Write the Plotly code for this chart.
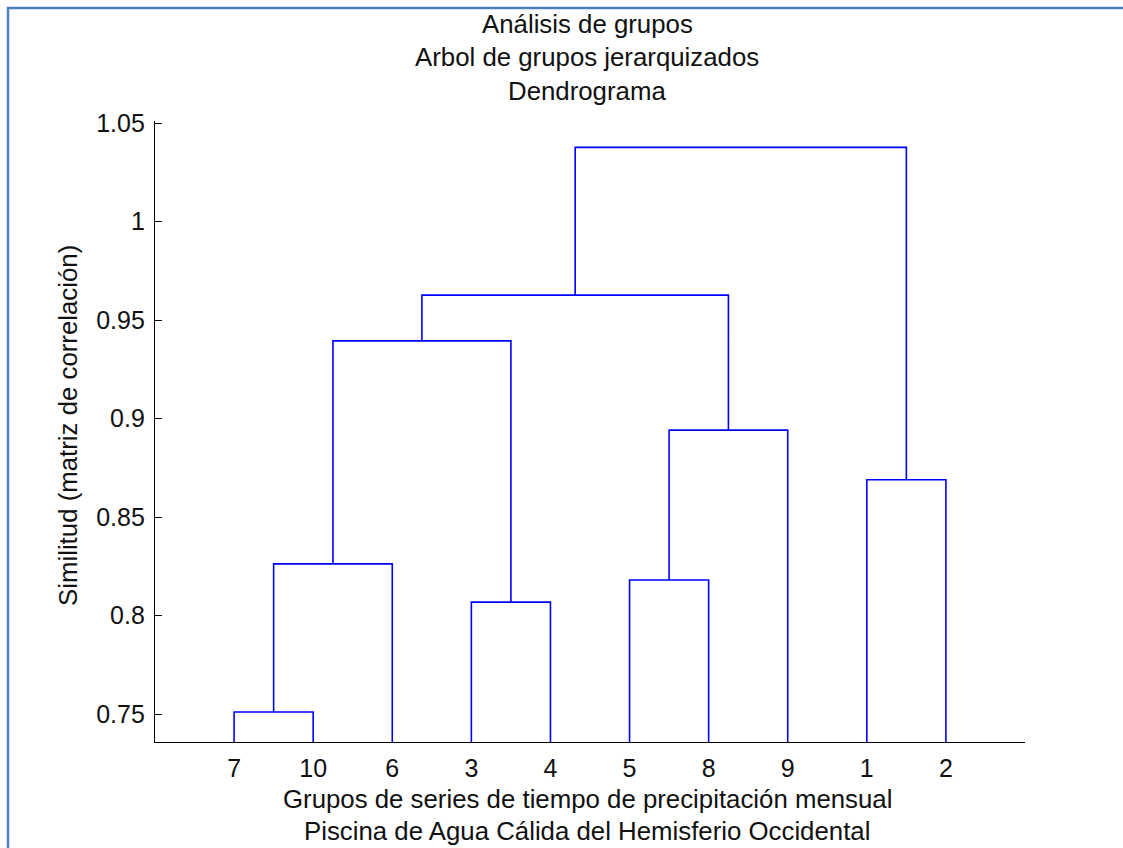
import plotly.graph_objects as go

# ---------------- data ----------------
# Agglomerative merges (children are series ids or earlier merge ids "m<k>")
merge_ids = ["m0", "m1", "m2", "m3", "m4", "m5", "m6", "m7", "m8"]
merge_left = ["7", "m0", "3", "m1", "5", "m4", "m3", "1", "m6"]
merge_right = ["10", "6", "4", "m2", "8", "9", "m5", "2", "m7"]
merge_height = [0.7511, 0.8263, 0.8069, 0.9395, 0.8181, 0.8942, 0.9627, 0.8690, 1.0377]

y_ticks = [0.75, 0.8, 0.85, 0.9, 0.95, 1.0, 1.05]
y_tick_labels = ["0.75", "0.8", "0.85", "0.9", "0.95", "1", "1.05"]

title_lines = ["Análisis de grupos", "Arbol de grupos jerarquizados", "Dendrograma"]
x_title_lines = ["Grupos de series de tiempo de precipitación mensual",
                 "Piscina de Agua Cálida del Hemisferio Occidental"]
y_title = "Similitud (matriz de correlación)"

# ---------------- dendrogram layout ----------------
children = {m: (l, r) for m, l, r in zip(merge_ids, merge_left, merge_right)}
heights = dict(zip(merge_ids, merge_height))
root = merge_ids[-1]

leaf_order = []
def collect(node):
    if node in children:
        collect(children[node][0])
        collect(children[node][1])
    else:
        leaf_order.append(node)
collect(root)

xpos = {leaf: i + 1 for i, leaf in enumerate(leaf_order)}
LEAF_H = 0.0
def node_xy(node):
    if node in children:
        return xpos[node], heights[node]
    return xpos[node], LEAF_H

for m in merge_ids:
    l, r = children[m]
    xpos[m] = (xpos[l] + xpos[r]) / 2.0

xs, ys = [], []
for m in merge_ids:
    l, r = children[m]
    xl, yl = node_xy(l)
    xr, yr = node_xy(r)
    h = heights[m]
    xs += [xl, xl, xr, xr, None]
    ys += [yl, h, h, yr, None]

FONT = "Arial, Liberation Sans, Helvetica, sans-serif"
FS = 25
FS_T = 25.8
TXT = "#111111"

W, H = 1123, 848
l_m, r_m, t_m, b_m = 155, 98, 121, 106
pw, ph = W - l_m - r_m, H - t_m - b_m
def px2paper(px, py):
    return (px - l_m) / pw, (H - b_m - py) / ph

fig = go.Figure()
fig.add_trace(go.Scatter(x=xs, y=ys, mode="lines",
                         line=dict(color="#0000ff", width=1.6),
                         hoverinfo="skip", showlegend=False))

fig.update_layout(
    width=W, height=H,
    margin=dict(l=l_m, r=r_m, t=t_m, b=b_m, pad=0),
    paper_bgcolor="white", plot_bgcolor="white",
    font=dict(family=FONT, size=FS, color=TXT),
    showlegend=False,
)

fig.update_xaxes(
    range=[0, len(leaf_order) + 1],
    tickmode="array", tickvals=list(range(1, len(leaf_order) + 1)), ticktext=leaf_order,
    ticks="", showgrid=False, zeroline=False,
    showline=True, linecolor="black", linewidth=1.3, mirror=False,
    tickfont=dict(family=FONT, size=FS, color=TXT),
    ticklabelstandoff=4,
)
fig.update_yaxes(
    range=[0.7359, 1.0511],
    tickmode="array", tickvals=y_ticks, ticktext=y_tick_labels,
    ticks="inside", ticklen=7, tickwidth=1.3, tickcolor="black",
    showgrid=False, zeroline=False,
    showline=True, linecolor="black", linewidth=1.3, mirror=False,
    tickfont=dict(family=FONT, size=FS, color=TXT),
    ticklabelstandoff=4,
)

# title lines (cap centres in page px)
for text, py in zip(title_lines, [24.5, 57.5, 90.8]):
    ax, ay = px2paper(587, py)
    fig.add_annotation(text=text, x=ax, y=ay, xref="paper", yref="paper",
                       xanchor="center", yanchor="middle", showarrow=False,
                       font=dict(family=FONT, size=FS_T, color=TXT))
# x-axis title lines
for text, py in zip(x_title_lines, [798.5, 830.5]):
    ax, ay = px2paper(587, py)
    fig.add_annotation(text=text, x=ax, y=ay, xref="paper", yref="paper",
                       xanchor="center", yanchor="middle", showarrow=False,
                       font=dict(family=FONT, size=FS_T, color=TXT))
# y-axis title
ax, ay = px2paper(68, 426)
fig.add_annotation(text=y_title, x=ax, y=ay, xref="paper", yref="paper",
                   xanchor="center", yanchor="middle", showarrow=False, textangle=-90,
                   font=dict(family=FONT, size=FS_T, color=TXT))

# screenshot frame (blue border at top and left)
x0, y0 = px2paper(8, H + 5)
x1, y1 = px2paper(8, 8)
x2, y2 = px2paper(W + 5, 8)
fig.add_shape(type="path", xref="paper", yref="paper",
              path=f"M {x0} {y0} L {x1} {y1} L {x2} {y2}",
              line=dict(color="#4f81bd", width=2.5))

fig.write_html("out.html", config={"displayModeBar": False},
               post_script="document.body.style.margin='0';document.body.style.overflow='hidden';")
